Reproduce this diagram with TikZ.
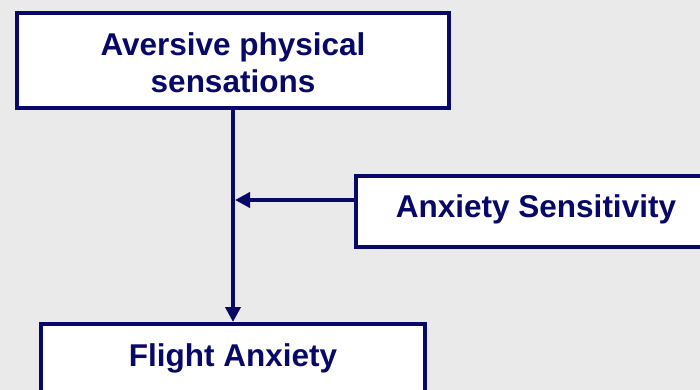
\documentclass[tikz,border=0pt]{standalone}
\usepackage{fontspec}
\setmainfont{Liberation Sans}
\usetikzlibrary{arrows.meta}
\definecolor{navy}{RGB}{8,8,104}
\definecolor{bgc}{RGB}{234,234,234}
\tikzset{
  box/.style={draw=navy, line width=4pt, fill=white, rectangle, inner sep=0pt},
  lbl/.style={text=navy, font=\bfseries\fontsize{31.5}{37}\selectfont, inner sep=0pt, align=center},
  conn/.style={draw=navy, line width=3.8pt},
  tip/.style={-{Triangle[length=15pt,width=15pt]}}
}
\begin{document}
\begin{tikzpicture}[x=1pt,y=-1pt]
\useasboundingbox (0,0) rectangle (700,390);
\clip (0,0) rectangle (700,390);
\fill[bgc] (0,0) rectangle (700,390);
% boxes
\node[box, minimum width=432pt, minimum height=95pt] (b1) at (233,60.5) {};
\node[box, minimum width=362pt, minimum height=71pt] (b2) at (537,211.5) {};
\node[box, minimum width=384pt, minimum height=100pt] (b3) at (233,374) {};
% labels
\node[lbl, anchor=north] (t1) at (233,32) {Aversive physical\\sensations};
\node[lbl, anchor=base] (t2) at (536,217.7) {Anxiety Sensitivity};
\node[lbl, anchor=base] (t3) at (233,366) {Flight Anxiety};
% connectors
\coordinate (m) at (235,200);
\draw[conn, tip] (b1.south) -- (b3.north);
\draw[conn, tip] (b2.west |- m) -- (m);
\end{tikzpicture}
\end{document}
